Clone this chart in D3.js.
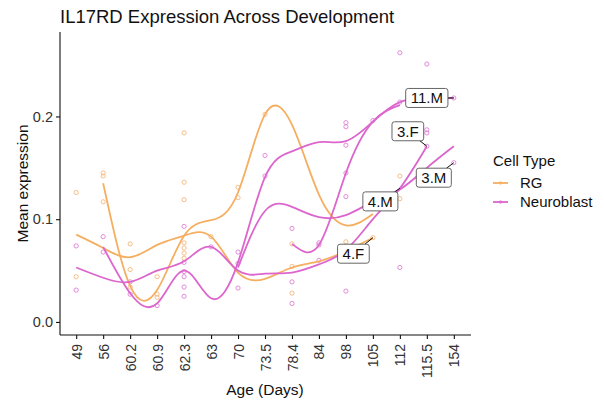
<!DOCTYPE html>
<html>
<head>
<meta charset="utf-8">
<script src="https://cdn.jsdelivr.net/npm/d3@7"></script>
<style>
  body { margin: 0; background: #fff; }
  text { font-family: "Liberation Sans", Arial, Helvetica, sans-serif; }
</style>
</head>
<body>
<svg id="chart" width="604" height="404"></svg>
<script>
// ---- data -------------------------------------------------------------
const ages = ["49", "56", "60.2", "60.9", "62.3", "63", "70", "73.5", "78.4",
              "84", "98", "105", "112", "115.5", "154"];
const cellTypes = ["RG", "Neuroblast"];
const yTicks = [0.0, 0.1, 0.2];

// per-sample mean expression, [age, value]
const rgPoints = [
  ["49", 0.126], ["49", 0.044],
  ["56", 0.145], ["56", 0.142], ["56", 0.117],
  ["60.2", 0.076], ["60.2", 0.051], ["60.2", 0.034],
  ["60.9", 0.044], ["60.9", 0.027], ["60.9", 0.024],
  ["62.3", 0.184], ["62.3", 0.136], ["62.3", 0.119], ["62.3", 0.077],
  ["62.3", 0.072], ["62.3", 0.067], ["62.3", 0.062],
  ["63", 0.083],
  ["70", 0.131], ["70", 0.121],
  ["73.5", 0.202],
  ["78.4", 0.076], ["78.4", 0.054], ["78.4", 0.028],
  ["98", 0.078],
  ["105", 0.082],
  ["112", 0.142], ["112", 0.120]
];
const nbPoints = [
  ["49", 0.074], ["49", 0.031],
  ["56", 0.083], ["56", 0.068],
  ["60.2", 0.039], ["60.2", 0.027],
  ["60.9", 0.016],
  ["62.3", 0.093], ["62.3", 0.058], ["62.3", 0.049], ["62.3", 0.044],
  ["62.3", 0.034], ["62.3", 0.025],
  ["63", 0.073],
  ["70", 0.068], ["70", 0.057], ["70", 0.033],
  ["73.5", 0.162], ["73.5", 0.142],
  ["78.4", 0.091], ["78.4", 0.039], ["78.4", 0.018],
  ["84", 0.077], ["84", 0.075], ["84", 0.060],
  ["98", 0.194], ["98", 0.190], ["98", 0.172], ["98", 0.145], ["98", 0.122], ["98", 0.030],
  ["105", 0.196],
  ["112", 0.262], ["112", 0.214], ["112", 0.053],
  ["115.5", 0.251], ["115.5", 0.187], ["115.5", 0.184], ["115.5", 0.171],
  ["154", 0.218], ["154", 0.155]
];

// smoothed trajectories, one per organoid line and cell type
const rgTrack4M = [["56", 0.135], ["60.2", 0.035], ["60.9", 0.031], ["62.3", 0.084],
  ["63", 0.099], ["70", 0.126], ["73.5", 0.202], ["78.4", 0.192], ["84", 0.124],
  ["98", 0.094], ["105", 0.105]];
const rgTrack4F = [["49", 0.085], ["56", 0.072], ["60.2", 0.063], ["60.9", 0.075],
  ["62.3", 0.084], ["63", 0.083], ["70", 0.048], ["73.5", 0.042], ["78.4", 0.053],
  ["84", 0.059], ["98", 0.069], ["105", 0.082]];
const nbTrack3F = [["49", 0.053], ["56", 0.043], ["60.2", 0.039], ["60.9", 0.050],
  ["62.3", 0.059], ["63", 0.073], ["70", 0.050], ["73.5", 0.047], ["78.4", 0.048],
  ["84", 0.056], ["98", 0.070], ["105", 0.100], ["112", 0.130], ["115.5", 0.171]];
const nbTrack11M = [["56", 0.073], ["60.2", 0.028], ["60.9", 0.018], ["62.3", 0.050],
  ["63", 0.023], ["70", 0.058], ["73.5", 0.141], ["78.4", 0.166], ["84", 0.175],
  ["98", 0.176], ["105", 0.195], ["112", 0.214], ["115.5", 0.217], ["154", 0.218]];
const nbTrack3M = [["70", 0.053], ["73.5", 0.108], ["78.4", 0.112], ["84", 0.102],
  ["98", 0.104], ["105", 0.117], ["112", 0.129], ["115.5", 0.150], ["154", 0.171]];
const nbTrack4M = [["78.4", 0.076], ["84", 0.075], ["98", 0.145], ["105", 0.195],
  ["112", 0.211]];

// end-of-line labels: name, age, value
const lineLabels = [
  ["11.M", "154", 0.218],
  ["3.F", "115.5", 0.171],
  ["3.M", "154", 0.155],
  ["4.M", "112", 0.130],
  ["4.F", "105", 0.082]
];
// where each label box sits relative to its point (px)
const labelNudge = [[-27, 0], [-19, -15], [-20, 15], [-19.5, 13], [-19.5, 16]];

// ---- chart ------------------------------------------------------------
const colors = { "RG": "#f6ae60", "Neuroblast": "#dc66cd" };
const pointColors = { "RG": "#f5b77c", "Neuroblast": "#df7fd6" };

const svg = d3.select("#chart");
const margin = { left: 60, right: 134, top: 32, bottom: 69 };
const W = 604, H = 404;

const x = d3.scalePoint().domain(ages)
  .range([margin.left, W - margin.right]).padding(0.6);
const y = d3.scaleLinear().domain([-0.0127, 0.2822])
  .range([H - margin.bottom, margin.top]);

// title
svg.append("text")
  .attr("x", 60).attr("y", 23)
  .attr("font-size", 18.5).attr("fill", "#111")
  .text("IL17RD Expression Across Development");

// sample points
const pts = svg.append("g");
function drawPoints(data, type) {
  pts.selectAll(null).data(data).enter().append("circle")
    .attr("cx", d => x(d[0])).attr("cy", d => y(d[1]))
    .attr("r", 2.1).attr("fill", "none")
    .attr("stroke", pointColors[type]).attr("stroke-width", 0.9);
}
drawPoints(rgPoints, "RG");
drawPoints(nbPoints, "Neuroblast");

// trajectories
const line = d3.line().x(d => x(d[0])).y(d => y(d[1]))
  .curve(d3.curveNatural);
const tracks = [
  [rgTrack4M, "RG"], [rgTrack4F, "RG"],
  [nbTrack3F, "Neuroblast"], [nbTrack11M, "Neuroblast"],
  [nbTrack3M, "Neuroblast"], [nbTrack4M, "Neuroblast"]
];
svg.append("g").selectAll("path").data(tracks).enter().append("path")
  .attr("d", d => line(d[0]))
  .attr("fill", "none")
  .attr("stroke", d => colors[d[1]])
  .attr("stroke-width", 1.8)
  .attr("stroke-linejoin", "round");

// axes
const xAxis = svg.append("g")
  .attr("transform", `translate(0,${H - margin.bottom})`)
  .call(d3.axisBottom(x).tickSize(4).tickPadding(2));
xAxis.select(".domain").attr("d", `M${margin.left},0H${W - margin.right + 1}`);
xAxis.selectAll(".tick text")
  .attr("font-size", 14).attr("fill", "#333")
  .attr("text-anchor", "end")
  .attr("transform", "rotate(-90)")
  .attr("x", -9).attr("y", 0).attr("dy", "0.36em");

const yAxis = svg.append("g")
  .attr("transform", `translate(${margin.left},0)`)
  .call(d3.axisLeft(y).tickValues(yTicks).tickFormat(d3.format(".1f"))
    .tickSize(4).tickPadding(3));
yAxis.select(".domain").attr("d", `M0,${H - margin.bottom}V${margin.top}`);
yAxis.selectAll(".tick text").attr("font-size", 14.5).attr("fill", "#333");
svg.selectAll(".domain, .tick line").attr("stroke", "#111").attr("stroke-width", 1.1);

// axis titles
svg.append("text")
  .attr("x", (margin.left + W - margin.right) / 2).attr("y", 395)
  .attr("text-anchor", "middle").attr("font-size", 15.5).attr("fill", "#111")
  .text("Age (Days)");
svg.append("text")
  .attr("transform", `translate(28,${(margin.top + H - margin.bottom) / 2}) rotate(-90)`)
  .attr("text-anchor", "middle").attr("font-size", 15.5).attr("fill", "#111")
  .text("Mean expression");

// labels with leader segments
const lab = svg.append("g");
lineLabels.forEach((d, i) => {
  const px = x(d[1]), py = y(d[2]);
  const cx = px + labelNudge[i][0], cy = py + labelNudge[i][1];
  const g = lab.append("g");
  const t = g.append("text")
    .attr("x", cx).attr("y", cy).attr("dy", "0.36em")
    .attr("text-anchor", "middle").attr("font-size", 15).attr("fill", "#111")
    .text(d[0]);
  const bb = t.node().getBBox();
  const bw = bb.width + 10, bh = 19;
  const bx = cx - bw / 2, by = cy - bh / 2;
  // segment from box edge to the point
  const dx = px - cx, dy = py - cy;
  const s = Math.min(dx !== 0 ? (bw / 2) / Math.abs(dx) : Infinity,
                     dy !== 0 ? (bh / 2) / Math.abs(dy) : Infinity);
  if (s < 1) {
    g.insert("line", "text")
      .attr("x1", cx + dx * s).attr("y1", cy + dy * s)
      .attr("x2", px).attr("y2", py)
      .attr("stroke", "#111").attr("stroke-width", 1);
  }
  g.insert("rect", "text")
    .attr("x", bx).attr("y", by).attr("width", bw).attr("height", bh)
    .attr("rx", 2.5).attr("fill", "#fff")
    .attr("stroke", "#555").attr("stroke-width", 0.9);
});

// legend
const lg = svg.append("g");
lg.append("text").attr("x", 493).attr("y", 166)
  .attr("font-size", 15).attr("fill", "#111").text("Cell Type");
cellTypes.forEach((c, i) => {
  const ky = 183 + i * 19;
  lg.append("line").attr("x1", 493).attr("x2", 508).attr("y1", ky).attr("y2", ky)
    .attr("stroke", colors[c]).attr("stroke-width", 1.8);
  lg.append("circle").attr("cx", 500.5).attr("cy", ky).attr("r", 1.3)
    .attr("fill", "none").attr("stroke", colors[c]).attr("stroke-width", 0.8);
  lg.append("text").attr("x", 520).attr("y", ky).attr("dy", "0.36em")
    .attr("font-size", 15).attr("fill", "#111").text(c);
});
</script>
</body>
</html>
